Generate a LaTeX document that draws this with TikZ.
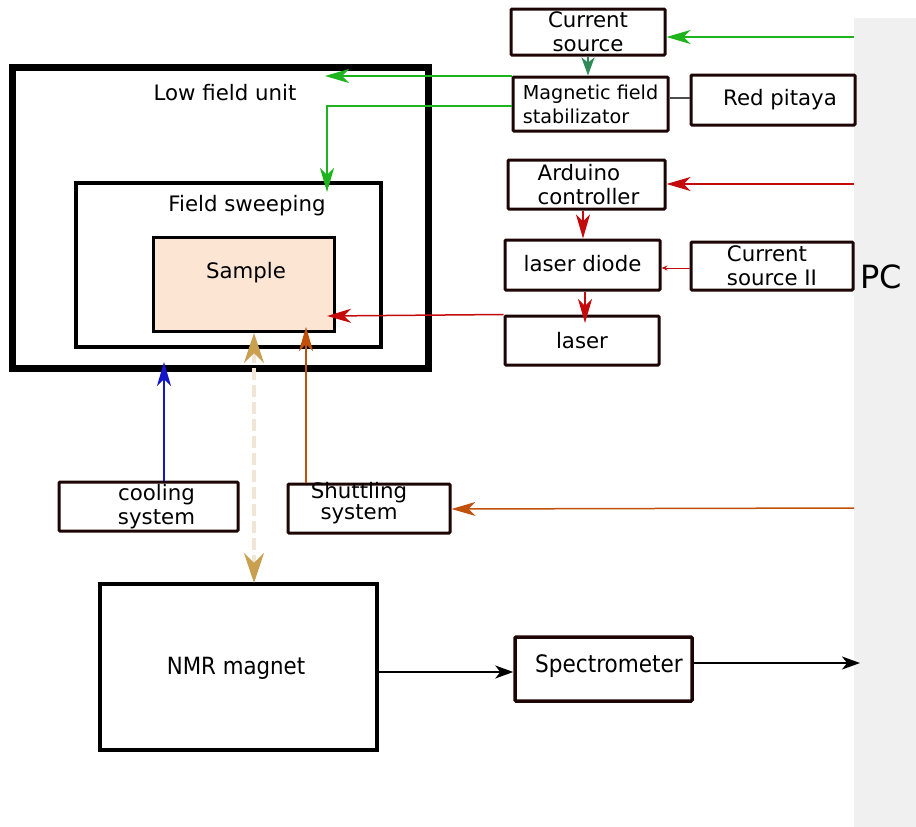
\documentclass[tikz,border=0pt]{standalone}
\usepackage{fontspec}
\setmainfont{DejaVu Sans}
\newfontfamily\condfont{DejaVu Sans Condensed}
\usetikzlibrary{arrows.meta}
\definecolor{boxc}{HTML}{1E0505}
\definecolor{pcgray}{HTML}{F0F0F0}
\definecolor{samplefill}{HTML}{FDE5D4}
\definecolor{gline}{HTML}{1EB41E}
\definecolor{dgline}{HTML}{2E8B57}
\definecolor{rline}{HTML}{C40A0A}
\definecolor{oline}{HTML}{C0500A}
\definecolor{bline}{HTML}{1414C8}
\definecolor{tanc}{HTML}{C8A050}
\definecolor{beige}{HTML}{F0E6D6}
\begin{document}
\begin{tikzpicture}[x=1pt,y=-1pt,
  box/.style={draw=boxc, line width=3pt, rounded corners=1pt, inner sep=0pt, font=\fontsize{21.3}{24}\selectfont, align=center},
  frame/.style={draw=black, inner sep=0pt},
  lbl/.style={font=\fontsize{21.3}{24}\selectfont, inner sep=0pt},
  bigtip/.style={-{Stealth[length=24pt,width=14pt,inset=7pt]}},
  midtip/.style={-{Stealth[length=18pt,width=13pt,inset=5pt]}},
  smalltip/.style={-{Stealth[length=6pt,width=5pt,inset=2pt]}},
  gconn/.style={draw=gline, line width=1.5pt, bigtip, color=gline},
  rconn/.style={draw=rline, line width=1.5pt, bigtip, color=rline},
  oconn/.style={draw=oline, line width=1.5pt, bigtip, color=oline},
  kconn/.style={draw=black, line width=1.5pt, midtip}]
\useasboundingbox (0,0) rectangle (916,827);
% PC panel
\node[fill=pcgray, minimum width=62pt, minimum height=809pt, anchor=north west, inner sep=0pt] (pcp) at (854,18) {};
\node[font=\fontsize{32}{32}\selectfont, inner sep=0pt] (pc) at (881,277) {PC};
% right-hand boxes
\node[box, minimum width=154pt, minimum height=46pt] (cs) at (588,32) {\raisebox{-2pt}{Current}\\\raisebox{-2pt}{source}};
\node[box, minimum width=155pt, minimum height=54pt, font=\fontsize{19.2}{24}\selectfont, align=left] (stab) at (590.5,104) {Magnetic field\\stabilizator};
\node[box, minimum width=164pt, minimum height=50pt] (rp) at (773,100) {\hspace*{14pt}Red pitaya};
\node[box, minimum width=157pt, minimum height=49pt, align=left] (ard) at (586.5,184.5) {\hspace*{4pt}Arduino\\\hspace*{4pt}controller};
\node[box, minimum width=155pt, minimum height=50pt] (ld) at (582.5,265) {\raisebox{4pt}{laser diode}};
\node[box, minimum width=162pt, minimum height=48pt, align=left] (cs2) at (772,266) {Current\\source II};
\node[box, minimum width=154pt, minimum height=49pt] (ls) at (582,340.5) {laser};
% low field unit
\node[frame, line width=7pt, minimum width=416pt, minimum height=301pt] (lfu) at (220,217.5) {};
\node[lbl] (lfut) at (225,93) {Low field unit};
\node[frame, line width=4pt, minimum width=305pt, minimum height=164pt] (fs) at (228.5,265) {};
\node[lbl] (fst) at (247,206) {Field sweeping};
\node[frame, line width=3pt, fill=samplefill, minimum width=181pt, minimum height=94pt] (smp) at (243.5,284) {};
\node[lbl] (smpt) at (246,273) {Sample};
% lower boxes
\node[box, minimum width=179pt, minimum height=49pt] (cool) at (148.5,506.5) {\hspace*{16pt}cooling\\\hspace*{16pt}system};
\node[box, minimum width=162pt, minimum height=49pt] (shut) at (369,508.5) {};
\node[font=\fontsize{21.3}{18}\selectfont, align=center, inner sep=0pt] (shutt) at (359,503) {Shuttling\\system};
\node[frame, line width=3.5pt, minimum width=277pt, minimum height=166pt] (nmr) at (238.5,667) {};
\node[font=\condfont\fontsize{23.7}{24}\selectfont, inner sep=0pt] (nmrt) at (236,668) {NMR magnet};
\node[box, line width=3.5pt, minimum width=177pt, minimum height=64pt] (spec) at (603.5,669) {};
\node[font=\condfont\fontsize{24}{24}\selectfont, inner sep=0pt] (spect) at (609,666) {Spectrometer};
% free ends
\coordinate (lfuin) at (325,76);
\coordinate (fsin) at (327,192);
\coordinate (smpin) at (327,316);
\coordinate (coolin) at (164,362);
\coordinate (shutin) at (306,327);
\coordinate (dtop) at (254,333);
\coordinate (dbot) at (254,583);
% connectors
\draw[gconn] (pcp.west |- 0,37) -- (cs.east |- 0,37);
\draw[draw=dgline, color=dgline, line width=1.5pt, midtip] (cs.south) -- (cs.south |- stab.north);
\draw[gconn] (stab.west |- 0,76) -- (lfuin);
\draw[gconn] (stab.west |- 0,106) -| (fsin);
\draw[draw=black!70, line width=1.2pt] (rp.west |- 0,98) -- (stab.east |- 0,98);
\draw[rconn] (pcp.west |- 0,184) -- (ard.east |- 0,184);
\draw[rconn] (ard.south -| 583,0) -- (ld.north -| 583,0);
\draw[draw=rline, color=rline, line width=1pt, smalltip] (cs2.west |- 0,268) -- (ld.east |- 0,268);
\draw[rconn] (ld.south -| 585,0) -- (585,323);
\draw[rconn] (ls.north west) -- (smpin);
\draw[draw=bline, color=bline, line width=2pt, bigtip] (cool.north -| 164,0) -- (coolin);
\draw[oconn] (shut.north -| 306,0) -- (shutin);
\draw[oconn] (pcp.west |- 0,508) -- (shut.east |- 0,509);
\draw[draw=beige, line width=4pt, dash pattern=on 12pt off 5pt, {Stealth[length=30pt,width=20pt,inset=10pt,color=tanc]}-{Stealth[length=30pt,width=20pt,inset=10pt,color=tanc]}] (dtop) -- (dbot);
\draw[kconn] (nmr.east |- 0,672) -- (spec.west |- 0,672);
\draw[kconn, shorten >=-6pt] (spec.east |- 0,663) -- (pcp.west |- 0,663);
\end{tikzpicture}
\end{document}
